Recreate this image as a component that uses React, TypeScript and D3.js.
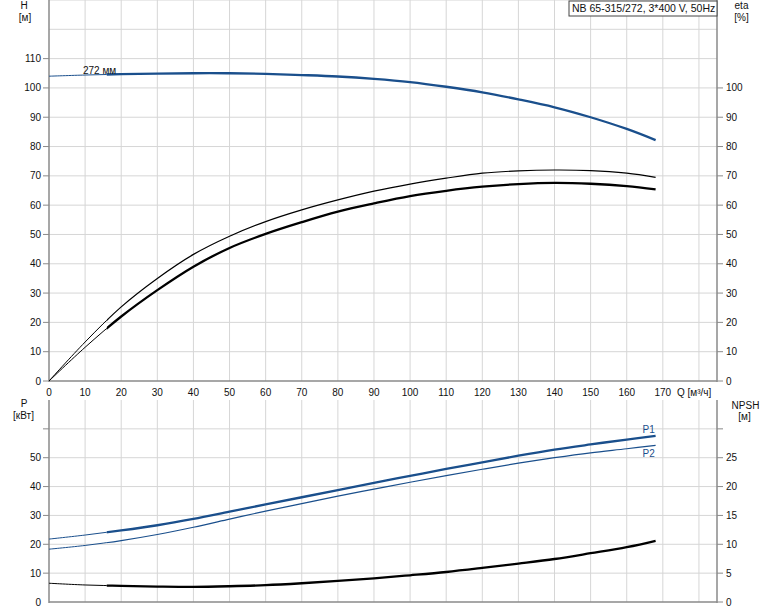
import React from "react";
import * as d3 from "d3";

// ---- data ----
const Q = [0, 10, 20, 30, 40, 50, 60, 70, 80, 90, 100, 110, 120, 130, 140, 150, 160, 168];
const H = [104.0, 104.4, 104.7, 104.9, 105.0, 105.0, 104.8, 104.4, 103.9, 103.1, 102.0, 100.4, 98.5, 96.1, 93.4, 90.0, 86.0, 82.2];
const ETA_PUMP = [0, 13.3, 25.3, 35.0, 43.2, 49.4, 54.4, 58.4, 61.8, 64.8, 67.2, 69.2, 70.9, 71.7, 72.0, 71.8, 70.9, 69.5];
const ETA_TOTAL = [0, 11.5, 22.0, 31.0, 39.0, 45.4, 50.2, 54.2, 57.8, 60.6, 63.1, 64.9, 66.3, 67.2, 67.6, 67.3, 66.5, 65.4];
const P1 = [21.8, 23.2, 24.8, 26.6, 28.8, 31.3, 33.8, 36.3, 38.8, 41.3, 43.7, 46.1, 48.4, 50.7, 52.8, 54.6, 56.3, 57.6];
const P2 = [18.3, 19.6, 21.3, 23.4, 25.9, 28.7, 31.5, 34.1, 36.7, 39.1, 41.5, 43.8, 46.0, 48.1, 50.0, 51.7, 53.1, 54.3];
const NPSH = [3.25, 2.95, 2.8, 2.68, 2.62, 2.73, 2.92, 3.25, 3.65, 4.1, 4.63, 5.2, 5.9, 6.65, 7.45, 8.45, 9.5, 10.6];
const Q_OP_START = 16;

const X_TICKS = [0, 10, 20, 30, 40, 50, 60, 70, 80, 90, 100, 110, 120, 130, 140, 150, 160, 170];
const X_GRID = [10, 20, 30, 40, 50, 60, 70, 80, 90, 100, 110, 120, 130, 140, 150, 160, 170, 180];
const H_TICKS = [0, 10, 20, 30, 40, 50, 60, 70, 80, 90, 100, 110];
const H_GRID = [10, 20, 30, 40, 50, 60, 70, 80, 90, 100, 110, 120, 130];
const ETA_TICKS = [0, 10, 20, 30, 40, 50, 60, 70, 80, 90, 100];
const P_TICKS = [0, 10, 20, 30, 40, 50];
const P_GRID = [10, 20, 30, 40, 50, 60];
const NPSH_TICKS = [0, 5, 10, 15, 20, 25];
const NPSH_GRID_TICKS = [30];

const TITLE = "NB 65-315/272, 3*400 V, 50Hz";
const IMPELLER = "272 мм";

const BLUE = "#1a4f8c";
const GRID = "#d6d6d6";
const AXIS = "#8a8a8a";
const FONT = "'Liberation Sans', Arial, sans-serif";

export default function App() {
  const L = 49, R = 717;
  const x = d3.scaleLinear().domain([0, 185]).range([L, R]);
  const yTop = d3.scaleLinear().domain([0, 130]).range([381, 0]);
  const yEta = d3.scaleLinear().domain([0, 130]).range([381, 0]);
  const yP = d3.scaleLinear().domain([0, 70]).range([602, 400]);
  const yN = d3.scaleLinear().domain([0, 35]).range([602, 400]);

  const mk = (vals: number[], y: d3.ScaleLinear<number, number>) =>
    d3.line<number>().x((_, i) => x(Q[i])).y((v) => y(v)).curve(d3.curveCatmullRom.alpha(0.5))(vals) || "";

  const xOp = x(Q_OP_START);
  const xEnd = x(Q[Q.length - 1]) + 3;

  const curve = (vals: number[], y: d3.ScaleLinear<number, number>, color: string, thick: boolean, key: string) => {
    const d = mk(vals, y);
    return (
      <g key={key}>
        <path d={d} fill="none" stroke={color} strokeWidth={1} clipPath="url(#clipThin)" />
        <path d={d} fill="none" stroke={color} strokeWidth={thick ? 2.3 : 1.2} clipPath="url(#clipOp)" />
      </g>
    );
  };

  const txt = { fontFamily: FONT, fontSize: 10, fill: "#111" } as const;

  return (
    <svg width={774} height={611} style={{ position: "absolute", left: 0, top: 0, background: "#fff" }}>
      <defs>
        <clipPath id="clipThin">
          <rect x={L} y={0} width={xOp - L} height={611} />
        </clipPath>
        <clipPath id="clipOp">
          <rect x={xOp} y={0} width={xEnd - xOp} height={611} />
        </clipPath>
      </defs>
      <rect x={0} y={0} width={774} height={611} fill="#fff" />

      {/* ---- top plot grid ---- */}
      {X_GRID.map((v) => (
        <line key={"tv" + v} x1={x(v)} x2={x(v)} y1={0} y2={381} stroke={GRID} strokeWidth={1} />
      ))}
      {H_GRID.map((v) => (
        <line key={"th" + v} x1={L} x2={R} y1={yTop(v)} y2={yTop(v)} stroke={GRID} strokeWidth={1} />
      ))}
      {/* ---- bottom plot grid ---- */}
      {X_GRID.map((v) => (
        <line key={"bv" + v} x1={x(v)} x2={x(v)} y1={400} y2={602} stroke={GRID} strokeWidth={1} />
      ))}
      {P_GRID.map((v) => (
        <line key={"bh" + v} x1={L} x2={R} y1={yP(v)} y2={yP(v)} stroke={GRID} strokeWidth={1} />
      ))}

      {/* ---- axes ---- */}
      <line x1={L} x2={L} y1={0} y2={382} stroke={AXIS} strokeWidth={1.5} />
      <line x1={R} x2={R} y1={0} y2={382} stroke={AXIS} strokeWidth={1.5} />
      <line x1={L} x2={R} y1={381} y2={381} stroke={AXIS} strokeWidth={1.5} />
      <line x1={L} x2={L} y1={400} y2={603} stroke={AXIS} strokeWidth={1.5} />
      <line x1={R} x2={R} y1={400} y2={603} stroke={AXIS} strokeWidth={1.5} />
      <line x1={L} x2={R} y1={602} y2={602} stroke={AXIS} strokeWidth={1.5} />

      {/* top ticks */}
      {H_TICKS.map((v) => (
        <g key={"hl" + v}>
          <line x1={L - 6} x2={L} y1={yTop(v)} y2={yTop(v)} stroke={AXIS} />
          <text x={41} y={yTop(v) + 3.5} textAnchor="end" {...txt}>{v}</text>
        </g>
      ))}
      {ETA_TICKS.map((v) => (
        <g key={"er" + v}>
          <line x1={R} x2={R + 6} y1={yEta(v)} y2={yEta(v)} stroke={AXIS} />
          <text x={726} y={yEta(v) + 3.5} textAnchor="start" {...txt}>{v}</text>
        </g>
      ))}
      {X_TICKS.map((v) => (
        <text key={"xt" + v} x={x(v)} y={396} textAnchor="middle" {...txt}>{v}</text>
      ))}
      <text x={677} y={396} {...txt}>Q [м³/ч]</text>

      {/* bottom ticks */}
      {P_GRID.map((v) => (
        <line key={"plt" + v} x1={L - 6} x2={L} y1={yP(v)} y2={yP(v)} stroke={AXIS} />
      ))}
      {P_TICKS.map((v) => (
        <text key={"pl" + v} x={41} y={yP(v) + 3.5} textAnchor="end" {...txt}>{v}</text>
      ))}
      {NPSH_TICKS.concat(NPSH_GRID_TICKS).map((v) => (
        <line key={"nrt" + v} x1={R} x2={R + 6} y1={yN(v)} y2={yN(v)} stroke={AXIS} />
      ))}
      {NPSH_TICKS.map((v) => (
        <text key={"nr" + v} x={726} y={yN(v) + 3.5} textAnchor="start" {...txt}>{v}</text>
      ))}

      {/* axis titles */}
      <text x={24} y={9} textAnchor="middle" {...txt}>H</text>
      <text x={25} y={21} textAnchor="middle" {...txt}>[м]</text>
      <text x={741.5} y={9} textAnchor="middle" {...txt}>eta</text>
      <text x={741.5} y={21} textAnchor="middle" {...txt}>[%]</text>
      <text x={24} y={407} textAnchor="middle" {...txt}>P</text>
      <text x={23.5} y={419} textAnchor="middle" {...txt}>[кВт]</text>
      <text x={745.5} y={409} textAnchor="middle" {...txt}>NPSH</text>
      <text x={744.5} y={420} textAnchor="middle" {...txt}>[м]</text>

      {/* curves */}
      {curve(ETA_PUMP, yEta, "#000", false, "etaP")}
      {curve(ETA_TOTAL, yEta, "#000", true, "etaT")}
      {curve(H, yTop, BLUE, true, "h")}
      {curve(P2, yP, BLUE, false, "p2")}
      {curve(P1, yP, BLUE, true, "p1")}
      {curve(NPSH, yN, "#000", true, "npsh")}

      {/* curve labels */}
      <text x={83} y={74} {...txt}>{IMPELLER}</text>
      <text x={642.5} y={433} fill={BLUE} fontFamily={FONT} fontSize={10}>P1</text>
      <text x={642.5} y={457} fill={BLUE} fontFamily={FONT} fontSize={10}>P2</text>

      {/* title box */}
      <rect x={569} y={1} width={148} height={15} fill="#fff" stroke="#444" strokeWidth={1} />
      <text x={572} y={12} {...txt} fontSize={10.5}>{TITLE}</text>
    </svg>
  );
}
